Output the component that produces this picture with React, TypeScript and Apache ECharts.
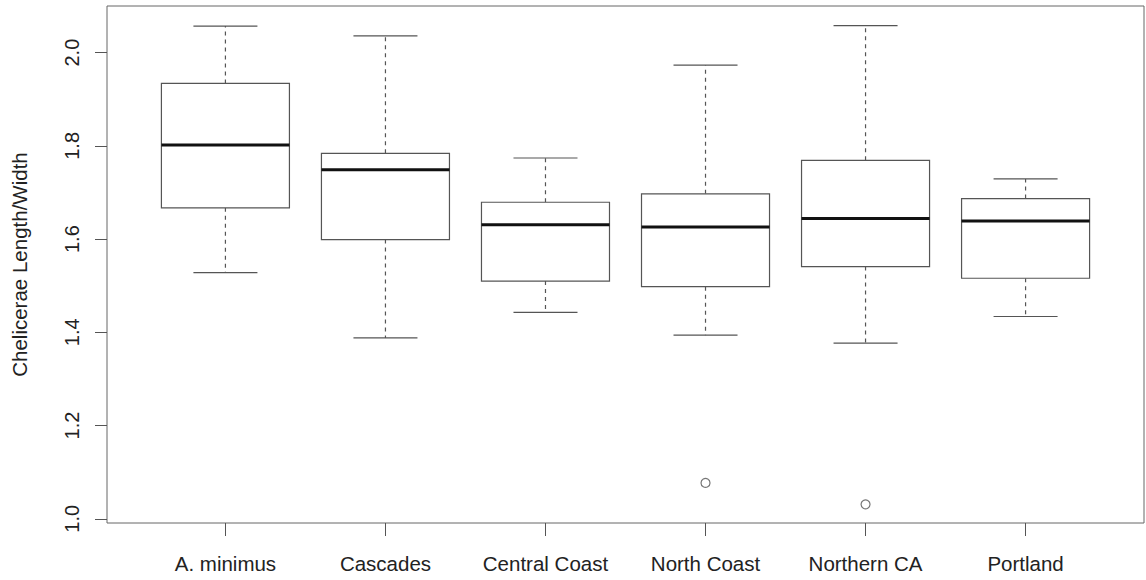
import React, { useEffect, useRef } from "react";
import * as echarts from "echarts";

const categories = ["A. minimus", "Cascades", "Central Coast", "North Coast", "Northern CA", "Portland"];
const lowerWhisker = [1.528, 1.388, 1.443, 1.394, 1.377, 1.434];
const q1 = [1.667, 1.599, 1.51, 1.498, 1.541, 1.516];
const median = [1.802, 1.749, 1.631, 1.626, 1.644, 1.639];
const q3 = [1.934, 1.784, 1.679, 1.697, 1.769, 1.687];
const upperWhisker = [2.057, 2.036, 1.774, 1.973, 2.058, 1.729];
const outlierCategory = ["North Coast", "Northern CA"];
const outlierValue = [1.077, 1.031];
const yTicks = [1.0, 1.2, 1.4, 1.6, 1.8, 2.0];
const yTitle = "Chelicerae Length/Width";

export default function App() {
  const ref = useRef<HTMLDivElement>(null);
  useEffect(() => {
    if (!ref.current) return;
    const chart = echarts.init(ref.current, null, { renderer: "svg" });
    const xPos = categories.map((_, i) => i + 1);
    const boxData = categories.map((_, i) => [
      xPos[i],
      lowerWhisker[i],
      q1[i],
      median[i],
      q3[i],
      upperWhisker[i],
    ]);
    const outData = outlierCategory.map((c, i) => [categories.indexOf(c) + 1, outlierValue[i]]);
    const lineColor = "#555";
    chart.setOption({
      animation: false,
      backgroundColor: "#fff",
      textStyle: { fontFamily: "Liberation Sans, Arial, sans-serif" },
      grid: {
        left: 107,
        right: 2,
        top: 6,
        bottom: 57,
        show: true,
        borderColor: "#666",
        borderWidth: 1,
        backgroundColor: "transparent",
      },
      xAxis: {
        type: "value",
        min: 0.26,
        max: 6.74,
        axisLine: { show: false },
        splitLine: { show: false },
        axisTick: {
          show: true,
          length: 13,
          customValues: xPos,
          lineStyle: { color: "#555", width: 1 },
        },
        axisLabel: {
          customValues: xPos,
          formatter: (v: number) => categories[Math.round(v) - 1] ?? "",
          fontSize: 20.5,
          color: "#222",
          margin: 30,
          fontFamily: "Liberation Sans, Arial, sans-serif",
        },
      },
      yAxis: {
        type: "value",
        min: 0.991,
        max: 2.1,
        name: yTitle,
        nameLocation: "middle",
        nameGap: 77,
        nameTextStyle: {
          fontSize: 20.5,
          color: "#222",
          fontFamily: "Liberation Sans, Arial, sans-serif",
        },
        axisLine: { show: false },
        splitLine: { show: false },
        axisTick: {
          show: true,
          length: 12,
          customValues: yTicks,
          lineStyle: { color: "#555", width: 1 },
        },
        axisLabel: {
          customValues: yTicks,
          rotate: 90,
          formatter: (v: number) => v.toFixed(1),
          fontSize: 20,
          color: "#222",
          margin: 25,
          fontFamily: "Liberation Sans, Arial, sans-serif",
        },
      },
      series: [
        {
          type: "custom",
          data: boxData,
          encode: { x: 0, y: [1, 2, 3, 4, 5] },
          renderItem: (params: any, api: any) => {
            const x = api.value(0);
            const lo = api.coord([x, api.value(1)]);
            const b1 = api.coord([x, api.value(2)]);
            const md = api.coord([x, api.value(3)]);
            const b3 = api.coord([x, api.value(4)]);
            const hi = api.coord([x, api.value(5)]);
            const w = api.size([0.8, 0])[0];
            const cx = lo[0];
            const half = w / 2;
            const capHalf = w / 4;
            const solid = { stroke: lineColor, lineWidth: 1.2, fill: "none" };
            const dashed = { stroke: lineColor, lineWidth: 1.2, lineDash: [4, 4] };
            return {
              type: "group",
              children: [
                { type: "line", shape: { x1: cx, y1: b3[1], x2: cx, y2: hi[1] }, style: dashed },
                { type: "line", shape: { x1: cx, y1: b1[1], x2: cx, y2: lo[1] }, style: dashed },
                { type: "line", shape: { x1: cx - capHalf, y1: hi[1], x2: cx + capHalf, y2: hi[1] }, style: solid },
                { type: "line", shape: { x1: cx - capHalf, y1: lo[1], x2: cx + capHalf, y2: lo[1] }, style: solid },
                {
                  type: "rect",
                  shape: { x: cx - half, y: b3[1], width: w, height: b1[1] - b3[1] },
                  style: { stroke: lineColor, lineWidth: 1.2, fill: "#fff" },
                },
                {
                  type: "line",
                  shape: { x1: cx - half, y1: md[1], x2: cx + half, y2: md[1] },
                  style: { stroke: "#111", lineWidth: 3 },
                },
              ],
            };
          },
          z: 2,
        },
        {
          type: "scatter",
          data: outData,
          symbol: "circle",
          symbolSize: 9,
          itemStyle: { color: "#fff", borderColor: "#555", borderWidth: 1.2 },
          z: 3,
        },
      ],
    });
    return () => chart.dispose();
  }, []);
  return (
    <div
      ref={ref}
      style={{ position: "absolute", left: 0, top: 0, width: 1146, height: 580, background: "#fff" }}
    />
  );
}
